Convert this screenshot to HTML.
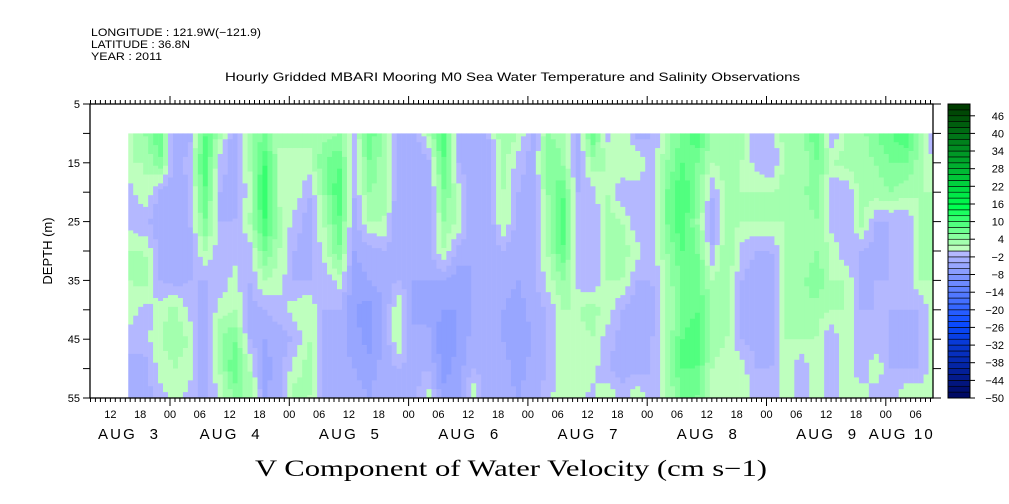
<!DOCTYPE html>
<html><head><meta charset="utf-8"><style>
html,body{margin:0;padding:0;background:#fff;}
svg{display:block;}
text{font-family:"Liberation Sans",sans-serif;fill:#000;}
</style></head><body>
<svg id="chart" width="1009" height="504" viewBox="0 0 1009 504" xmlns="http://www.w3.org/2000/svg">
<g>
<text x="91" y="36" font-size="11" textLength="170" lengthAdjust="spacingAndGlyphs">LONGITUDE : 121.9W(−121.9)</text>
<text x="91" y="48" font-size="11" textLength="99" lengthAdjust="spacingAndGlyphs">LATITUDE : 36.8N</text>
<text x="91" y="60" font-size="11" textLength="71" lengthAdjust="spacingAndGlyphs">YEAR : 2011</text>
</g>
<text x="225" y="81" font-size="12" textLength="575" lengthAdjust="spacingAndGlyphs">Hourly Gridded MBARI Mooring M0 Sea Water Temperature and Salinity Observations</text>
<g id="heat"></g>
<g id="axes"></g>
<g id="cbar"></g>
<text x="0" y="0" font-size="13" text-anchor="middle" transform="translate(52,251) rotate(-90)">DEPTH (m)</text>
<text x="511" y="476" font-size="23" text-anchor="middle" textLength="512" lengthAdjust="spacingAndGlyphs" style="font-family:'Liberation Serif',serif">V Component of Water Velocity (cm s−1)</text>
</svg>
<script>
// hours relative to AUG 4 00:00
const times = [-8,-5,-2,1,4,7,10,13,16,19,22,25,28,31,34,37,40,43,46,49,52,55,58,61,64,67,70,73,76,79,82,85,88,91,94,97,100,103,106,109,112,115,118,121,124,127,130,133,136,139,142,145,148,151,154];
const depths = [10,15,20,25,30,35,40,45,50,55];
const values = [
[1,2,-1,-1,2,2,1,-1,-3,-2],
[4,2,2,-2,2,3,-1,-1,-3,-3],
[8,6,-3,-3,-3,-2,1,2,1,-1],
[-4,-3,-4,-4,-3,-3,3,3,2,1],
[-3,-1,-2,-2,-3,-2,-1,2,1,-1],
[8,10,8,6,2,-2,-3,-4,-4,-3],
[3,-1,-2,-2,-1,-2,1,4,2,1],
[-4,-3,-3,-2,-1,1,2,6,8,4],
[4,2,1,2,-1,-2,-3,-2,2,4],
[6,10,12,10,6,2,-2,-4,-5,-4],
[2,2,1,3,2,1,-1,-3,-3,-3],
[3,1,2,-1,-2,-2,1,-2,1,3],
[3,1,-2,-3,-3,-2,2,2,3,2],
[3,6,4,2,1,-2,-2,-2,-2,-2],
[4,8,10,8,6,1,-2,-3,-3,-3],
[-1,-2,-2,-3,-4,-5,-6,-5,-4,-3],
[8,6,4,2,-3,-4,-7,-7,-5,-4],
[3,3,3,2,-2,-3,-4,-4,-3,-3],
[-2,-3,-4,-4,-4,-2,2,2,-2,-3],
[-3,-4,-4,-4,-3,-4,-4,-4,-3,-3],
[2,-3,-4,-4,-3,-4,-5,-3,-2,1],
[10,8,6,4,2,-4,-6,-8,-7,-5],
[-2,-2,1,2,-3,-5,-6,-6,-5,-5],
[-4,-4,-4,-4,-4,-4,-4,-3,-2,2],
[-2,-3,-4,-4,-4,-3,-3,-3,-3,-4],
[4,3,2,2,-2,-3,-4,-4,-3,-3],
[2,-1,-2,-3,-4,-4,-5,-6,-5,-4],
[-3,-3,-3,-3,-3,-3,-3,-4,-3,-3],
[4,6,4,3,2,1,-2,-2,-2,-1],
[3,4,8,10,8,4,2,2,2,2],
[-3,-3,-2,-2,-1,-1,2,1,2,1],
[8,3,-1,-2,-2,-2,3,2,1,-1],
[-1,2,2,3,2,2,1,-1,-2,2],
[2,2,-2,2,3,2,-2,-3,-3,-1],
[-3,2,-1,-2,1,-2,-4,-3,-3,2],
[-2,-2,-2,-2,-2,-2,-3,-2,-2,-2],
[3,4,6,6,4,3,2,2,3,2],
[6,8,10,10,8,6,6,8,8,6],
[10,6,6,4,6,8,8,10,8,6],
[3,2,-2,-3,-2,2,3,3,2,2],
[2,3,3,3,4,4,3,2,1,2],
[3,2,2,2,-1,-2,-3,-2,1,2],
[-2,-1,2,2,-2,-3,-4,-3,-2,-2],
[-2,-2,2,2,-2,-4,-4,-3,-2,-2],
[4,3,3,2,2,2,3,2,2,2],
[3,2,3,2,2,3,4,2,-2,-2],
[8,6,6,4,4,6,3,2,2,2],
[-2,2,-2,-1,2,2,2,-2,-2,-2],
[2,3,-2,-2,-2,2,2,2,2,2],
[3,3,3,3,-2,-3,-2,-2,-2,2],
[6,4,3,-2,-3,-2,-2,-2,2,-2],
[8,6,4,-2,-2,-2,-2,-2,-2,-2],
[10,6,3,-2,-2,-2,-2,-3,-2,2],
[3,3,2,2,2,2,-2,-2,-2,2],
[-2,-1,2,2,2,2,2,2,2,2]
];
const depthTicks = [5,15,25,35,45,55];
const cbarLabels = [46,40,34,28,22,16,10,4,-2,-8,-14,-20,-26,-32,-38,-44,-50];
const dayLabels = ["AUG  3","AUG  4","AUG  5","AUG  6","AUG  7","AUG  8","AUG  9","AUG 10"];
const dayLabelHours = [-12,12,36,60,84,108,132,147];

const NS='http://www.w3.org/2000/svg';
const X0=90,X1=933,Y0=104,Y1=398;
const xs=h=>170+h*(X1-170)/153.5;
const ys=d=>Y0+(d-5)*(Y1-Y0)/50;
const HMIN=-16.1,HMAX=153.5;
function mk(tag,attrs,parent){const e=document.createElementNS(NS,tag);for(const k in attrs)e.setAttribute(k,attrs[k]);parent.appendChild(e);return e;}
function colorFor(v){
  const b=Math.floor(v/2);
  if(b>=0){
    const i=Math.min(b,24);
    if(i<=7){const t=i/7;return `rgb(${Math.round(190-190*t)},255,${Math.round(190-110*t)})`;}
    const t=(i-7)/17;return `rgb(0,${Math.round(255-195*t)},${Math.round(80-80*t)})`;
  } else {
    const i=Math.min(-b-1,24);
    if(i<=12){const t=i/12;return `rgb(${Math.round(180-170*t)},${Math.round(184-110*t)},255)`;}
    const t=(i-12)/12;return `rgb(${Math.round(10-10*t)},${Math.round(74-64*t)},${Math.round(255-155*t)})`;
  }
}
function interp(h,d){
  let i=0;while(i<times.length-2&&times[i+1]<h)i++;
  let tx=(h-times[i])/(times[i+1]-times[i]);tx=Math.max(0,Math.min(1,tx));
  let j=0;while(j<depths.length-2&&depths[j+1]<d)j++;
  let ty=(d-depths[j])/(depths[j+1]-depths[j]);ty=Math.max(0,Math.min(1,ty));
  const a=values[i][j]*(1-tx)+values[i+1][j]*tx;
  const b=values[i][j+1]*(1-tx)+values[i+1][j+1]*tx;
  return a*(1-ty)+b*ty;
}
const heat=document.getElementById('heat');
const hStart=times[0]-0.4,hEnd=HMAX-0.1;
for(let h=hStart;h<hEnd;h+=1){
  const he=Math.min(h+1,hEnd);
  const xa=xs(h),xb=xs(he);
  let runStart=depths[0],runCol=null;
  for(let d=depths[0];d<=55.001;d+=0.5){
    const c=d<55?colorFor(interp(h+0.5,d+0.25)):null;
    if(c!==runCol){
      if(runCol!==null){
        const r=mk('rect',{x:xa.toFixed(2),y:ys(runStart).toFixed(2),width:(xb-xa+0.3).toFixed(2),height:(ys(d)-ys(runStart)+0.3).toFixed(2),fill:runCol},heat);
        
        
      }
      runStart=d;runCol=c;
    }
  }
}
const ax=document.getElementById('axes');
mk('rect',{x:X0,y:Y0,width:X1-X0,height:Y1-Y0,fill:'none',stroke:'#000','stroke-width':1.3},ax);
for(let h=Math.ceil(HMIN);h<=HMAX;h++){
  const x=xs(h).toFixed(1);const major=((h%24)+24)%24===0;
  mk('line',{x1:x,x2:x,y1:Y0,y2:Y0-(major?8:4),stroke:'#000'},ax);
  mk('line',{x1:x,x2:x,y1:Y1,y2:Y1+(major?8:4),stroke:'#000'},ax);
}
for(let h=-12;h<=HMAX;h+=6){
  const hh=((h%24)+24)%24;
  const t=mk('text',{x:xs(h).toFixed(1),y:418,'font-size':11,'text-anchor':'middle'},ax);
  t.textContent=(hh<10?'0':'')+hh;
  
  
}
dayLabels.forEach((s,i)=>{
  let cx=xs(dayLabelHours[i]);
  if(i===0)cx=128;
  const w=i===7?64:60;
  const t=mk('text',{x:(cx-w/2).toFixed(1),y:439,'font-size':15,textLength:w,lengthAdjust:'spacing'},ax);
  t.setAttributeNS('http://www.w3.org/XML/1998/namespace','xml:space','preserve');
  t.textContent=s;
  
  
});
for(let d=5;d<=55;d+=5){
  const y=ys(d).toFixed(1);
  mk('line',{x1:X0-7,x2:X0,y1:y,y2:y,stroke:'#000'},ax);
  mk('line',{x1:X1,x2:X1+8,y1:y,y2:y,stroke:'#000'},ax);
}
depthTicks.forEach(d=>{
  const t=mk('text',{x:80,y:(ys(d)+4).toFixed(1),'font-size':11,'text-anchor':'end'},ax);
  t.textContent=d;
  
  
});
const cb=document.getElementById('cbar');
const CX=948,CW=22,vmin=-50,vmax=50;
const cy=v=>Y1-(v-vmin)*(Y1-Y0)/(vmax-vmin);
for(let v=vmin;v<vmax;v+=2){
  const r=mk('rect',{x:CX,y:cy(v+2).toFixed(2),width:CW,height:(cy(v)-cy(v+2)).toFixed(2),fill:colorFor(v+1),stroke:'#000','stroke-width':0.6},cb);
  
  
}
mk('rect',{x:CX,y:Y0,width:CW,height:Y1-Y0,fill:'none',stroke:'#000','stroke-width':1},cb);
cbarLabels.forEach(v=>{
  const y=cy(v);
  mk('line',{x1:CX+CW,x2:CX+CW+5,y1:y.toFixed(1),y2:y.toFixed(1),stroke:'#000'},cb);
  const t=mk('text',{x:1004,y:(y+4).toFixed(1),'font-size':11,'text-anchor':'end'},cb);
  t.textContent=v<0?'−'+(-v):String(v);
  
  
});
</script>
</body></html>
